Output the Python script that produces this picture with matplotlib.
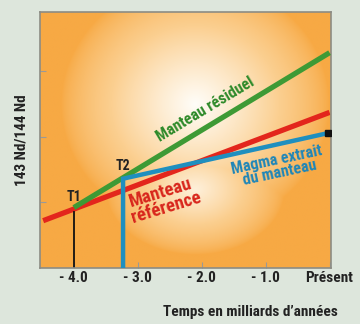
import numpy as np
import matplotlib
matplotlib.use('Agg')
import matplotlib.pyplot as plt
from matplotlib.colors import LinearSegmentedColormap
from matplotlib import font_manager

# temps en milliards d'annees (0 = present), rapport 143Nd/144Nd (unites arbitraires)
ref_x = [-4.48, 0.0]
ref_y = [0.72, 2.37]
resid_x = [-4.0, 0.0]
resid_y = [0.92, 3.28]
magma_x = [-3.23, -3.23, 0.0]
magma_y = [-0.1, 1.36, 2.06]
t1_x = [-4.0, -4.0]
t1_y = [-0.1, 0.86]

tick_pos = [-4.0, -3.0, -2.0, -1.0, 0.0]
tick_lab = ['- 4.0', '- 3.0', '- 2.0', '- 1.0', 'Présent']

# police etroite si elle existe
noms = {f.name for f in font_manager.fontManager.ttflist}
narrow = None
for n in ['Liberation Sans Narrow', 'DejaVu Sans Condensed', 'Roboto Condensed', 'Open Sans Condensed']:
    if n in noms:
        narrow = n
        break
if narrow:
    kw = dict(family=[narrow, 'DejaVu Sans'], fontweight='bold')
    sc = 1.0
else:
    kw = dict(family=['DejaVu Sans'], fontweight='bold', fontstretch='condensed')
    sc = 0.8

bg = '#dde6dc'

fig = plt.figure(figsize=(3.6, 3.24), dpi=100, facecolor=bg)
ax = fig.add_axes([0.111, 0.173, 0.808, 0.790])
ax.set_xlim(-4.53, 0.02)
ax.set_ylim(0, 3.9)

# fond orange avec halo blanc
gx, gy = np.meshgrid(np.linspace(-4.53, 0.02, 300), np.linspace(0, 3.9, 300))
d1 = np.hypot((gx + 2.1) / 2.1, (gy - 2.5) / 1.9)
d2 = np.hypot((gx + 2.1) / 1.4, (gy - 1.2) / 1.0)
glow = np.clip(np.maximum(1 - d1, 0.8 * (1 - d2)), 0, 1) ** 0.7
cmap = LinearSegmentedColormap.from_list('fond', ['#f7a944', '#fbcf90', '#fffdf8'])
ax.imshow(glow, extent=[-4.53, 0.02, 0, 3.9], origin='lower', cmap=cmap,
          aspect='auto', vmin=0, vmax=1, zorder=0)

ax.plot(ref_x, ref_y, color='#e3261c', lw=3.8, solid_capstyle='butt', zorder=2)
ax.plot(resid_x, resid_y, color='#3e9a35', lw=3.8, solid_capstyle='butt', zorder=3)
ax.plot(magma_x, magma_y, color='#1f8fbf', lw=3.2, solid_capstyle='butt',
        solid_joinstyle='miter', zorder=4)
ax.plot(t1_x, t1_y, color='#111111', lw=1.3, zorder=2)
ax.plot([magma_x[-1] - 0.03], [magma_y[-1]], marker='s', ms=4.5, color='#111111', zorder=5)

ax.text(-4.0, 0.97, 'T1', ha='center', va='bottom', fontsize=10 * sc, color='#222222', **kw)
ax.text(-3.23, 1.45, 'T2', ha='center', va='bottom', fontsize=10 * sc, color='#222222', **kw)
ax.text(-1.95, 2.42, 'Manteau résiduel', ha='center', va='center', rotation=31,
        fontsize=11.5 * sc, color='#2e8a2a', **kw)
ax.text(-2.6, 1.03, 'Manteau\nréférence', ha='center', va='center', rotation=17,
        fontsize=13.5 * sc, color='#d8261c', linespacing=0.85, **kw)
ax.text(-0.8, 1.55, 'Magma extrait\ndu manteau', ha='center', va='center', rotation=12,
        fontsize=11.5 * sc, color='#1f86b8', linespacing=0.85, **kw)

ax.set_xticks(tick_pos)
ax.set_xticklabels(tick_lab, **kw, fontsize=11 * sc, color='#222222')
ax.set_yticks([1, 2, 3])
ax.set_yticklabels([])
ax.tick_params(axis='both', direction='in', length=4, width=0.8, color='#999999', pad=2)
for s in ax.spines.values():
    s.set_color('#8c8c84')
    s.set_linewidth(1.2)

ax.set_ylabel('143 Nd/144 Nd', **kw, fontsize=11 * sc, color='#222222', labelpad=6)
fig.text(0.695, 0.038, "Temps en milliards d’années", ha='center', va='center',
         fontsize=11 * sc, color='#222222', **kw)

fig.savefig('out.png', dpi=100, facecolor=bg)
